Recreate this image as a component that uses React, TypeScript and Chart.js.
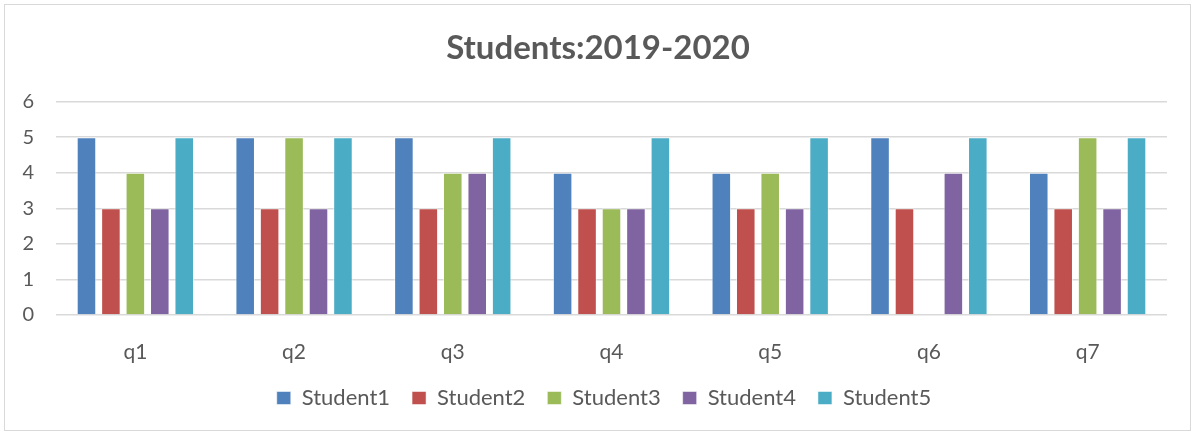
import React, { useEffect, useRef } from "react";
import { Chart, registerables } from "chart.js";

Chart.register(...registerables);

const categories = ["q1", "q2", "q3", "q4", "q5", "q6", "q7"];
const seriesNames = ["Student1", "Student2", "Student3", "Student4", "Student5"];
const student1 = [5, 5, 5, 4, 4, 5, 4];
const student2 = [3, 3, 3, 3, 3, 3, 3];
const student3 = [4, 5, 4, 3, 4, 0, 5];
const student4 = [3, 3, 4, 3, 3, 4, 3];
const student5 = [5, 5, 5, 5, 5, 5, 5];
const seriesColors = ["#4F81BD", "#C0504D", "#9BBB59", "#8064A2", "#4BACC6"];
const titleText = "Students:2019-2020";

const FONT = "Lato, 'Open Sans', sans-serif";
const TEXT = "#595959";

const shiftBlocks = {
  id: "shiftBlocks",
  afterLayout(chart: any) {
    const t = chart.titleBlock;
    if (t) {
      t.left += 12;
      t.right += 12;
    }
    const l = chart.legend;
    if (l) {
      l.left += 18;
      l.right += 18;
    }
  },
};

export default function App() {
  const ref = useRef<HTMLCanvasElement | null>(null);
  useEffect(() => {
    if (!ref.current) return;
    const values = [student1, student2, student3, student4, student5];
    const chart = new Chart(ref.current, {
      type: "bar",
      data: {
        labels: categories,
        datasets: seriesNames.map((name, i) => ({
          label: name,
          data: values[i],
          backgroundColor: seriesColors[i],
          borderColor: "rgba(255,255,255,0.5)",
          borderWidth: 1,
          barPercentage: 0.8,
          categoryPercentage: 0.77,
        })),
      },
      options: {
        animation: false,
        responsive: false,
        maintainAspectRatio: false,
        layout: { padding: { left: 0, right: 23, top: 0, bottom: 11 } },
        plugins: {
          title: {
            display: true,
            text: titleText,
            color: TEXT,
            font: { family: FONT, size: 33, weight: "bold" },
            padding: { top: 24, bottom: 33 },
          },
          legend: {
            position: "bottom",
            labels: {
              color: TEXT,
              font: { family: FONT, size: 22 },
              boxWidth: 14,
              boxHeight: 13,
              padding: 22,
            },
          },
          tooltip: { enabled: false },
        },
        scales: {
          x: {
            grid: { display: false, drawTicks: false },
            border: { display: false },
            ticks: { color: TEXT, font: { family: FONT, size: 21 }, padding: 25 },
            afterFit: (s: any) => {
              s.height = 50;
            },
          },
          y: {
            min: 0,
            max: 6,
            grid: { color: "#d9d9d9", lineWidth: 1.5, drawTicks: false },
            border: { display: false },
            ticks: { stepSize: 1, color: TEXT, font: { family: FONT, size: 20 }, padding: 22 },
            afterFit: (s: any) => {
              s.width = 51;
            },
          },
        },
      },
      plugins: [shiftBlocks],
    });
    return () => chart.destroy();
  }, []);
  return (
    <div style={{ position: "fixed", left: 0, top: 0, width: 1196, height: 436, background: "#fff" }}>
      <div
        style={{
          position: "absolute",
          left: 4,
          top: 4,
          width: 1187,
          height: 427,
          border: "1px solid #d9d9d9",
          boxSizing: "border-box",
        }}
      >
        <canvas ref={ref} width={1185} height={425} style={{ display: "block" }} />
      </div>
    </div>
  );
}
